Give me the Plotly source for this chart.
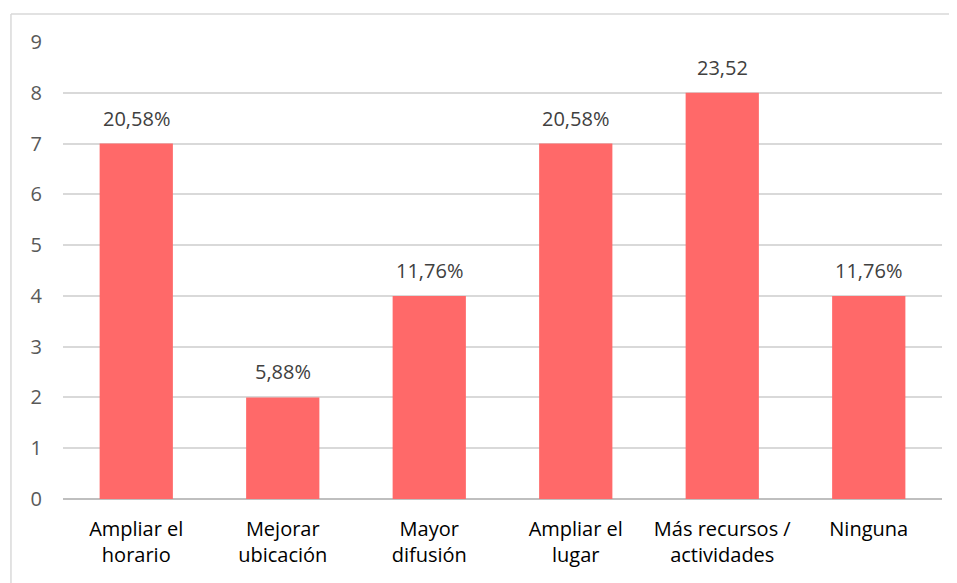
import plotly.graph_objects as go

categories = ["Ampliar el<br>horario", "Mejorar<br>ubicación", "Mayor<br>difusión",
              "Ampliar el<br>lugar", "Más recursos /<br>actividades", "Ninguna"]
values = [7, 2, 4, 7, 8, 4]
labels = ["20,58%", "5,88%", "11,76%", "20,58%", "23,52", "11,76%"]

font_family = "Open Sans, Lato, sans-serif"

fig = go.Figure()
fig.add_trace(go.Bar(
    x=categories,
    y=values,
    marker=dict(color="#FF6969", line=dict(width=0)),
    width=0.5,
    hoverinfo="skip",
))

for cat, val, lab in zip(categories, values, labels):
    fig.add_annotation(
        x=cat, y=val, text=lab, showarrow=False,
        yanchor="bottom", yshift=10,
        font=dict(family=font_family, size=20, color="#404040"),
    )

# outer frame (left and top edges only visible in the reference)
fig.add_shape(type="line", xref="paper", yref="paper",
              x0=-0.0592, x1=-0.0592, y0=-0.25, y1=1.0613,
              line=dict(color="#D9D9D9", width=1.5))
fig.add_shape(type="line", xref="paper", yref="paper",
              x0=-0.0592, x1=1.05, y0=1.0613, y1=1.0613,
              line=dict(color="#D9D9D9", width=1.5))

fig.update_layout(
    width=957,
    height=583,
    margin=dict(l=55, r=23, t=34, b=92),
    paper_bgcolor="white",
    plot_bgcolor="white",
    showlegend=False,
    bargap=0.5,
    font=dict(family=font_family),
    xaxis=dict(
        tickfont=dict(family=font_family, size=20, color="#000000"),
        showgrid=False,
        showline=False,
        ticks="",
        ticklabelstandoff=16,
    ),
    yaxis=dict(
        range=[0, 9],
        dtick=1,
        tickfont=dict(family=font_family, size=20, color="#595959"),
        showgrid=True,
        gridcolor="#D9D9D9",
        gridwidth=1.5,
        zeroline=True,
        zerolinecolor="#BFBFBF",
        zerolinewidth=1.5,
        ticks="",
        ticklabelstandoff=20,
        showline=False,
    ),
)

fig.write_html("out.html")
